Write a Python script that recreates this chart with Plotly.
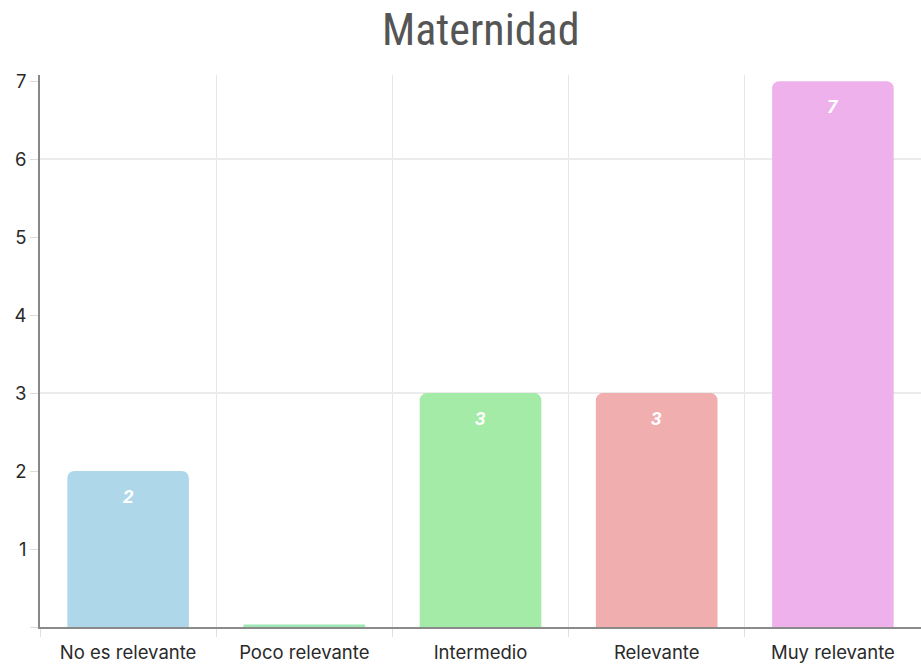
import plotly.graph_objects as go

categories = ["No es relevante", "Poco relevante", "Intermedio", "Relevante", "Muy relevante"]
values = [2, 0, 3, 3, 7]
colors = ["#AED7EA", "#9DE8B4", "#A3EBA6", "#F1AEAE", "#EEB1EB"]
y_tickvals = [0, 1, 2, 3, 4, 5, 6, 7]
y_ticktext = ["", "1", "2", "3", "4", "5", "6", "7"]
title_text = "Maternidad"

fig = go.Figure()
# helper (invisible) trace so the grid-only overlay axis is drawn
fig.add_trace(go.Scatter(
    x=categories, y=values, yaxis="y2", mode="markers",
    marker=dict(opacity=0), hoverinfo="skip", showlegend=False,
))
fig.add_trace(go.Bar(
    x=categories, y=values,
    marker=dict(color=colors, cornerradius=7,
                line=dict(color=colors, width=[0 if v else 5 for v in values])),
    width=0.69,
    hoverinfo="x+y",
    yaxis="y",
))

for c, v in zip(categories, values):
    if v:
        fig.add_annotation(x=c, y=v, yanchor="top", yshift=-12, text=str(v), showarrow=False,
                           font=dict(family="Roboto", size=19, color="white", weight="bold", style="italic"))

fig.update_layout(
    width=921, height=664,
    margin=dict(l=40, r=0, t=75, b=37),
    paper_bgcolor="white", plot_bgcolor="white",
    showlegend=False,
    title=dict(text=title_text, x=0.522, xanchor="center", y=0.955, yanchor="middle",
               font=dict(family="Liberation Sans Narrow, Roboto Condensed, Arial Narrow", size=44, color="#555555")),
    xaxis=dict(
        type="category", tickson="boundaries", showgrid=True, gridcolor="#E6E6E6", gridwidth=1,
        ticks="outside", ticklen=8, tickcolor="#E0E0E0",
        showline=True, linecolor="#8A8A8A", linewidth=2,
        ticklabelstandoff=8,
        tickfont=dict(family="Inter, Roboto, sans-serif", size=18.5, color="#2A2A2A"),
        fixedrange=True,
    ),
    yaxis=dict(
        range=[0, 7.08], tickvals=y_tickvals, ticktext=y_ticktext,
        showgrid=False, zeroline=False,
        ticks="outside", ticklen=8, tickcolor="#DDDDDD",
        showline=True, linecolor="#888888", linewidth=1.5,
        tickfont=dict(family="Inter, Roboto, sans-serif", size=18.5, color="#2A2A2A"),
        fixedrange=True,
    ),
    yaxis2=dict(
        overlaying="y", anchor="x", range=[0, 7.08], dtick=3, tick0=0,
        showgrid=True, gridcolor="#EBEBEB", gridwidth=2, showticklabels=False,
        ticks="", showline=False, zeroline=False, fixedrange=True,
    ),
)

fig.write_html("out.html")
